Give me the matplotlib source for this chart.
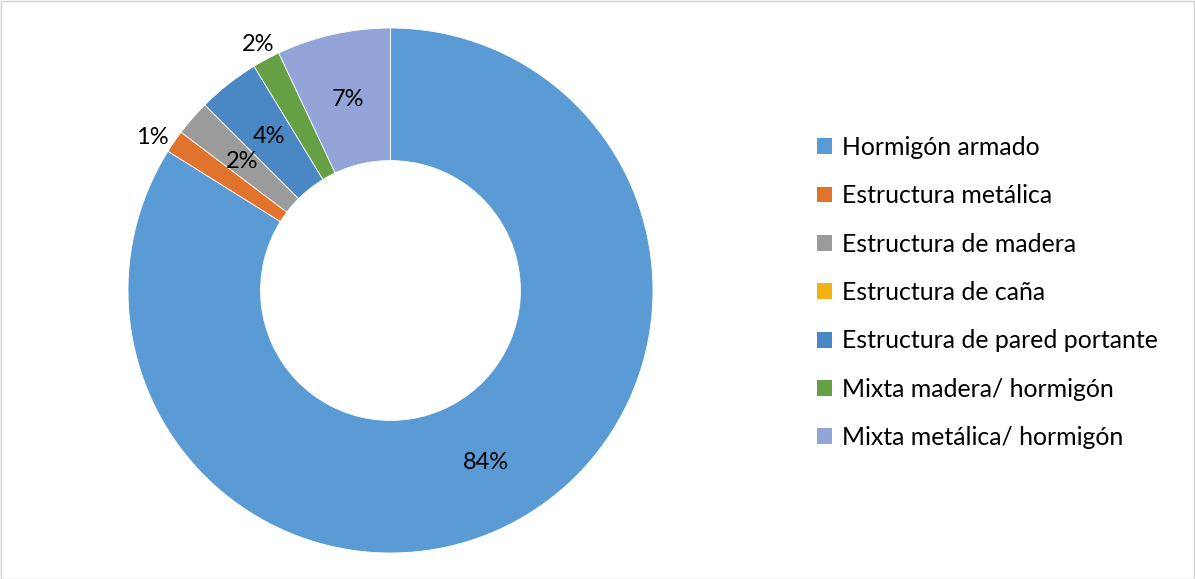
import matplotlib
matplotlib.use("Agg")
import matplotlib.pyplot as plt
from matplotlib.patches import Patch, Rectangle
import numpy as np

categories = ["Hormigón armado", "Estructura metálica", "Estructura de madera",
              "Estructura de caña", "Estructura de pared portante",
              "Mixta madera/ hormigón", "Mixta metálica/ hormigón"]
values = [83.9, 1.4, 2.2, 0.0, 3.8, 1.7, 7.0]
colors = ["#5B9BD5", "#E2732C", "#9B9B9B", "#F0B310", "#4A88C5", "#65A144", "#93A4D8"]
outside_labels = [False, True, False, False, False, True, False]

plt.rcParams['font.family'] = ['Lato', 'DejaVu Sans']

W, H = 1195, 579
fig = plt.figure(figsize=(W/100, H/100), dpi=100)
fig.patches.append(Rectangle((0.5/W, 0.5/H), 1 - 1.5/W, 1 - 1.5/H, transform=fig.transFigure,
                             fill=False, edgecolor="#D0D0D0", linewidth=1))

cx, cy, R = 390.5, 290.5, 262.5
ax = fig.add_axes([(cx - R)/W, (H - cy - R)/H, 2*R/W, 2*R/H])
wedges, _ = ax.pie(values, colors=colors, startangle=90, counterclock=False, radius=1.0,
                   wedgeprops=dict(width=0.505, edgecolor="white", linewidth=0.6))
ax.set_xlim(-1, 1); ax.set_ylim(-1, 1); ax.set_aspect('equal'); ax.axis('off')

total = sum(values)
for w, v, out in zip(wedges, values, outside_labels):
    if round(v) == 0:
        continue
    ang = np.deg2rad((w.theta1 + w.theta2) / 2)
    r = 1.065 if out else 0.747
    ha = 'center'
    if out and np.cos(ang) < -0.5:
        ha = 'right'; r = 1.025
    ax.text(r*np.cos(ang), r*np.sin(ang), f"{round(v/total*100)}%", ha=ha, va='center',
            fontsize=17, color="#000000")

handles = [Patch(facecolor=c, edgecolor='none') for c in colors]
fig.legend(handles, categories, loc='upper left', bbox_to_anchor=(807/W, 1 - 126/H),
           frameon=False, fontsize=17.9, handlelength=0.6, handleheight=0.6,
           handletextpad=0.4, labelspacing=1.02, borderaxespad=0)

fig.savefig("out.png", dpi=100)
